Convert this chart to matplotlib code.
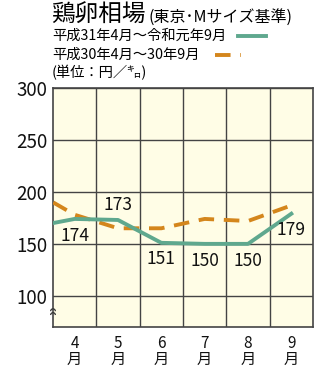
import matplotlib.pyplot as plt
from matplotlib.patches import Arc

plt.rcParams['font.family'] = ['Noto Sans CJK JP', 'DejaVu Sans']

# 3月(画面外)〜9月
months = ['3', '4', '5', '6', '7', '8', '9']
reiwa = [166, 174, 173, 151, 150, 150, 179]      # 平成31年4月〜令和元年9月
heisei30 = [202, 178, 165, 165, 174, 172, 187]   # 平成30年4月〜30年9月
labels = ['', '174', '173', '151', '150', '150', '179']
label_pos = ['', 'below', 'above', 'below', 'below', 'below', 'below']
yticks = [100, 150, 200, 250, 300]

W, H = 329, 368
fig = plt.figure(figsize=(W / 100, H / 100), dpi=100)
fig.patch.set_facecolor('white')

ax = fig.add_axes([53 / W, (H - 327) / H, 260 / W, (327 - 88) / H])
ax.set_facecolor('#fffde6')
x = list(range(len(months)))

green = '#5fa88e'
orange = '#d4861c'
ax.plot(x, heisei30, color=orange, lw=2.8, dashes=(4, 2.5), solid_joinstyle='round', zorder=3)
ax.plot(x, reiwa, color=green, lw=2.8, solid_joinstyle='round', zorder=4)

for xi, v, lab, pos in zip(x, reiwa, labels, label_pos):
    if not lab:
        continue
    off = 11 if pos == 'above' else -12
    ax.annotate(lab, (xi, v), xytext=(0, off), textcoords='offset points',
                ha='center', va='center', fontsize=12.5, color='#111111', zorder=5)

ax.set_xlim(0.5, 6.5)
ax.set_ylim(70, 300)
ax.set_yticks(yticks)
ax.set_yticklabels([str(t) for t in yticks], fontsize=13.5)
ax.set_xticks(x[1:])
ax.set_xticklabels([m + '\n月' for m in months[1:]], fontsize=11, linespacing=0.9)
ax.tick_params(length=0, pad=4, colors='#111111')
ax.tick_params(axis='x', pad=6)

for v in yticks:
    ax.axhline(v, color='#444444', lw=1.0, zorder=1)
for xi in [1.5, 2.5, 3.5, 4.5, 5.5]:
    ax.axvline(xi, color='#444444', lw=1.0, zorder=1)
for s in ax.spines.values():
    s.set_color('#444444')
    s.set_linewidth(1.2)

# 省略記号
for yy in (0.05, 0.066):
    ax.add_patch(Arc((0.0, yy), 0.018, 0.02, theta1=0, theta2=180,
                     transform=ax.transAxes, color='#333333', lw=0.9,
                     clip_on=False, zorder=6))

fig.text(51 / W, 1 - 15 / H, '鶏卵相場', fontsize=17, va='center', ha='left')
fig.text(149 / W, 1 - 17 / H, '(東京･Mサイズ基準)', fontsize=11.5, va='center', ha='left')
fig.text(52 / W, 1 - 36 / H, '平成31年4月〜令和元年9月', fontsize=10.3, va='center', ha='left')
fig.text(52 / W, 1 - 55 / H, '平成30年4月〜30年9月', fontsize=10.3, va='center', ha='left')
fig.text(52 / W, 1 - 73 / H, '(単位：円／㌔)', fontsize=10.3, va='center', ha='left')
fig.add_artist(plt.Line2D([238 / W, 266 / W], [1 - 36 / H, 1 - 36 / H], color=green, lw=2.8))
fig.add_artist(plt.Line2D([215 / W, 241 / W], [1 - 55 / H, 1 - 55 / H], color=orange,
                          lw=2.8, dashes=(4, 2.5)))

fig.savefig('out.png', dpi=100)
